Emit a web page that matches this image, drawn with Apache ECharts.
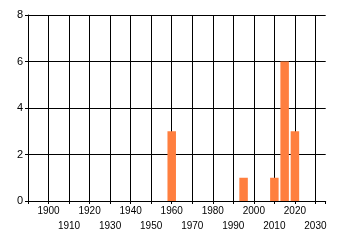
<!DOCTYPE html>
<html>
<head>
<meta charset="utf-8">
<script src="https://cdn.jsdelivr.net/npm/echarts@6/dist/echarts.min.js"></script>
<style>html,body{margin:0;padding:0;background:#fff}#c{width:340px;height:245px}</style>
</head>
<body>
<div id="c"></div>
<script>
const years = [1960, 1995, 2010, 2015, 2020];
const counts = [3, 1, 1, 6, 3];
const xTickMin = 1890, xTickMax = 2030, xMax = 2035, xStep = 10;
const yTicks = [0, 2, 4, 6, 8];

const lineColors = [];
for (let v = xTickMin; v <= xTickMax; v += xStep) lineColors.push('#000');
lineColors.push('rgba(0,0,0,0)');

const chart = echarts.init(document.getElementById('c'), null, {renderer: 'canvas'});
chart.setOption({
  animation: false,
  grid: {left: 28, right: 14.3, top: 15, bottom: 44},
  xAxis: {
    type: 'value', min: xTickMin, max: xMax, interval: xStep,
    axisLine: {show: true, lineStyle: {color: '#000', width: 1}},
    axisTick: {show: true, length: 3, lineStyle: {color: '#000'}},
    splitLine: {show: true, lineStyle: {color: lineColors, width: 1}},
    axisLabel: {
      color: '#000', fontSize: 10, fontFamily: 'Liberation Sans, Arial, sans-serif',
      margin: 3, lineHeight: 15, showMinLabel: true, showMaxLabel: true,
      formatter: function (v) {
        if (v < 1900 || v > xTickMax) return '';
        return (Math.round(v / 10) % 2 === 0) ? String(v) : '\n' + v;
      }
    }
  },
  yAxis: {
    type: 'value', min: yTicks[0], max: yTicks[yTicks.length - 1], interval: 2,
    axisLine: {show: true, lineStyle: {color: '#000', width: 1}},
    axisTick: {show: true, length: 3, lineStyle: {color: '#000'}},
    splitLine: {show: true, lineStyle: {color: '#000', width: 1}},
    axisLabel: {color: '#000', fontSize: 11, fontFamily: 'Liberation Sans, Arial, sans-serif', margin: 5}
  },
  series: [{
    type: 'bar',
    data: years.map((y, i) => [y, counts[i]]),
    barWidth: 8.5,
    itemStyle: {color: '#ff7f3f'}
  }]
});
</script>
</body>
</html>
